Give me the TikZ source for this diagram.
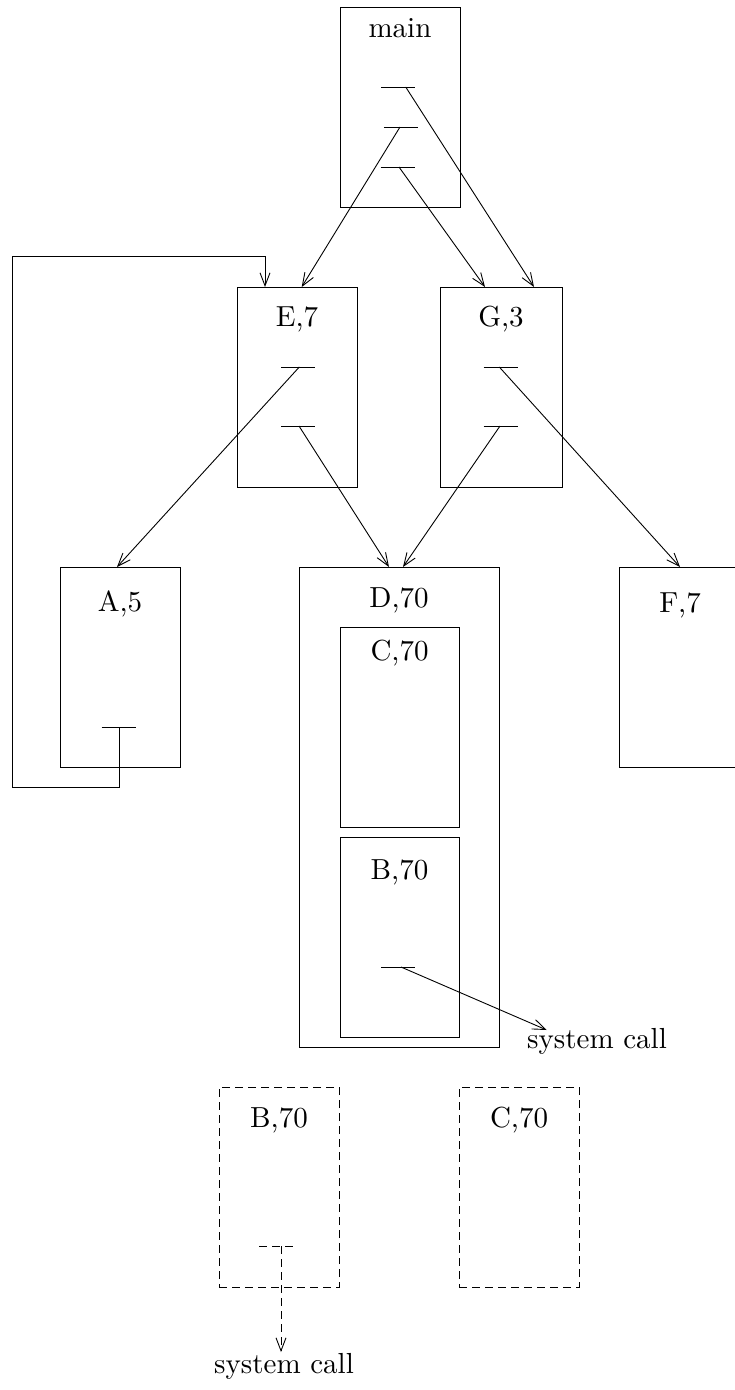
\documentclass[tikz,border=0pt]{standalone}
\usetikzlibrary{arrows.meta}

\tikzstyle{proc} = [draw,line width=0.9pt,rectangle,inner sep=0pt]
\tikzstyle{ghost} = [proc,dash pattern=on 8pt off 5pt]
\tikzstyle{title} = [font=\fontsize{10}{12}\selectfont,scale=2.9,inner sep=0pt,anchor=base]
\tikzstyle{tick} = [draw,line width=0.9pt]
\tikzstyle{call} = [draw,line width=0.9pt,-{Straight Barb[length=13pt,width=10pt]}]
\tikzstyle{ghostcall} = [call,dash pattern=on 8pt off 5pt]

\begin{document}
\begin{tikzpicture}[x=1pt,y=-1pt]
      \useasboundingbox (0,0) rectangle (735,1390);
      %boxes
      \foreach \name/\x/\y/\w/\h/\lbl/\off in {
        main/400/107/120/200/main/31, E/297/387/120/200/{E,7}/40,
        G/501/387/122/200/{G,3}/40, A/120/667/120/200/{A,5}/45,
        D/399/807/200/480/{D,70}/41, C/399.5/727/119/200/{C,70}/34,
        B/399.5/937/119/200/{B,70}/43, F/680/667/122/200/{F,7}/46}
      {
        \node[proc, minimum width=\w, minimum height=\h] (\name) at (\x,\y) {};
        \node[title] (\name-title) at ([yshift=-\off pt]\name.north) {\lbl};
      };
      \foreach \name/\x/\lbl in {gB/279/{B,70}, gC/519/{C,70}}
      {
        \node[ghost, minimum width=120, minimum height=200] (\name) at (\x,1187) {};
        \node[title] (\name-title) at ([yshift=-41pt]\name.north) {\lbl};
      };
      %ticks
      \foreach \tname/\x/\y/\sx in {
        m1/398/87/405.7, m2/400.8/127/400, m3/397.5/167/399,
        e1/298.3/367/299.3, e2/298.3/426/299, g1/500.5/367/499.3,
        g2/500.5/426/500, a1/118.5/727/119, b1/398/967/401}
      {
        \draw[tick] (\x-17,\y) -- (\x+17,\y);
        \coordinate (\tname) at (\sx,\y);
      };
      \draw[tick, dash pattern=on 8pt off 5pt] (259.3,1246) -- (297.3,1246);
      \coordinate (gb1) at (281,1246);
      %entry points
      \foreach \cname/\x/\y in {
        Eloop/265/287, Ein/301.7/287, Gin1/485/287, Gin2/534/287,
        Ain/117/567, Din1/389/567, Din2/403/567, Fin/680/567,
        sys/546.7/1030, gsys/281/1352, loopsw/12/787, loopnw/12/256}
      {
        \coordinate (\cname) at (\x,\y);
      };
      \node[title] (sys-text) at (597,1048) {system call};
      \node[title] (gsys-text) at (284,1373) {system call};
      %calls
      \foreach \startnode/\endnode in {
        m2/Ein, m3/Gin1, m1/Gin2, e1/Ain, e2/Din1, g2/Din2, g1/Fin, b1/sys}
      {
        \draw[call] (\startnode) -- (\endnode);
      };
      \draw[call] (a1) |- (loopsw) -- (loopnw) -| (Eloop);
      \draw[ghostcall] (gb1) -- (gsys);
\end{tikzpicture}
\end{document}
